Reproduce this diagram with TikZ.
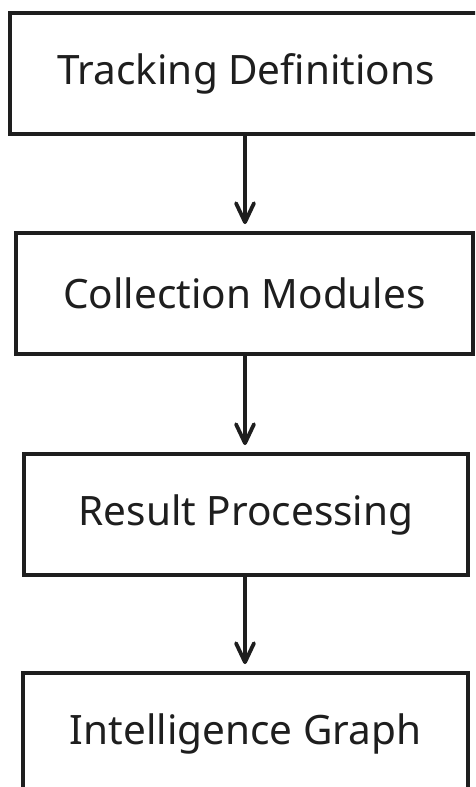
\documentclass[tikz,border=0pt]{standalone}
\usepackage{fontspec}
\setmainfont{Noto Sans}
\usetikzlibrary{arrows.meta}
\definecolor{ink}{HTML}{1E1E1E}
\tikzset{
  stepbox/.style={draw=ink, line width=3.8pt, rectangle, inner sep=0pt,
    text=ink, font=\fontsize{40.5}{48}\selectfont},
  flow/.style={draw=ink, line width=3.6pt, line cap=round,
    -{Straight Barb[length=19pt, width=18pt, line width=3.8pt, round]},
    shorten >=7pt}
}
\begin{document}
\begin{tikzpicture}[x=1pt, y=-1pt]
  \useasboundingbox (0,0) rectangle (475,787);
  \clip (0,0) rectangle (475,787);
  \fill[white] (0,0) rectangle (475,787);

  \node[stepbox, minimum width=472pt, minimum height=121pt] (defs) at (246,73.5) {Tracking Definitions};
  \node[stepbox, minimum width=457pt, minimum height=121pt] (coll) at (244.5,293.5) {Collection Modules};
  \node[stepbox, minimum width=444pt, minimum height=121pt] (proc) at (246,514.5) {Result Processing};
  \node[stepbox, minimum width=445pt, minimum height=121pt] (graph) at (245.5,733.5) {Intelligence Graph};

  \draw[flow] (defs.south -| 245,0) -- (coll.north -| 245,0);
  \draw[flow] (coll.south -| 245,0) -- (proc.north -| 245,0);
  \draw[flow] (proc.south -| 245,0) -- (graph.north -| 245,0);
\end{tikzpicture}
\end{document}
